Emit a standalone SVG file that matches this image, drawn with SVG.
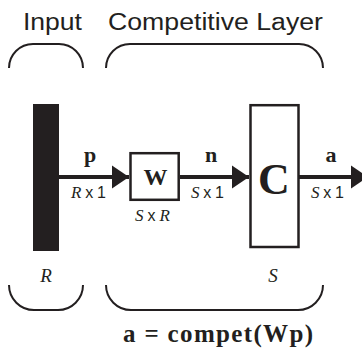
<svg xmlns="http://www.w3.org/2000/svg" width="362" height="354" viewBox="0 0 362 354">
<style>
.bg{fill:#ffffff}
.hdr{font-family:"Liberation Sans",Arial,sans-serif;font-size:23.5px;fill:#231f20}
.brk{fill:none;stroke:#231f20;stroke-width:2}
.box{fill:#ffffff;stroke:#231f20;stroke-width:2.5}
.bar{fill:#231f20}
.wire{fill:none;stroke:#231f20;stroke-width:4}
.sym{font-family:"Liberation Serif","Times New Roman",serif;font-weight:bold;fill:#231f20;text-anchor:middle}
.dim{font-family:"Liberation Sans",Arial,sans-serif;font-size:16px;fill:#231f20}
.it{font-family:"Liberation Serif","Times New Roman",serif;font-style:italic;font-size:17px}
.ital{font-family:"Liberation Serif","Times New Roman",serif;font-style:italic;font-size:19px;fill:#231f20;text-anchor:middle}
</style>
<defs>
<marker id="ah" markerUnits="userSpaceOnUse" markerWidth="17" markerHeight="23" refX="17" refY="11.5" orient="auto" overflow="visible">
<path d="M0,0 L17,11.5 L0,23 Z" fill="#231f20"/>
</marker>
</defs>
<rect class="bg" x="0" y="0" width="362" height="354"/>
<g id="headers">
<text class="hdr" x="23" y="30" textLength="59" lengthAdjust="spacingAndGlyphs">Input</text>
<text class="hdr" x="108" y="30" textLength="215" lengthAdjust="spacingAndGlyphs">Competitive Layer</text>
</g>
<g id="brackets">
<path class="brk" d="M9,68 A24,24 0 0 1 33,44 L59,44 A24,24 0 0 1 83,68"/>
<path class="brk" d="M106,68 A24,24 0 0 1 130,44 L299,44 A24,24 0 0 1 323,68"/>
<path class="brk" d="M9,285 A25,25 0 0 0 34,310 L58,310 A25,25 0 0 0 83,285"/>
<path class="brk" d="M106,285 A25,25 0 0 0 131,310 L298,310 A25,25 0 0 0 323,285"/>
</g>
<g id="connectors">
<line class="wire" x1="59" y1="177" x2="129" y2="177" marker-end="url(#ah)"/>
<line class="wire" x1="180" y1="177" x2="249" y2="177" marker-end="url(#ah)"/>
<line class="wire" x1="299" y1="177" x2="368" y2="177" marker-end="url(#ah)"/>
</g>
<g id="input">
<rect class="bar" x="33" y="104" width="26" height="147"/>
<text class="ital" x="46" y="282">R</text>
</g>
<g id="weight">
<rect class="box" x="130.5" y="153.2" width="48.2" height="46.6"/>
<text class="sym" x="155.5" y="185" font-size="24">W</text>
<text class="dim" x="135" y="220.5" textLength="35" lengthAdjust="spacing"><tspan class="it">S</tspan>x<tspan class="it">R</tspan></text>
</g>
<g id="compet">
<rect class="box" x="250.5" y="105.2" width="48" height="141.8"/>
<text class="sym" x="274" y="194" font-size="44">C</text>
<text class="ital" x="273" y="282">S</text>
</g>
<g id="labels">
<text class="sym" x="90" y="162" font-size="22">p</text>
<text class="dim" x="71" y="198" textLength="35" lengthAdjust="spacing"><tspan class="it">R</tspan>x1</text>
<text class="sym" x="211" y="162" font-size="22">n</text>
<text class="dim" x="191" y="198" textLength="33" lengthAdjust="spacing"><tspan class="it">S</tspan>x1</text>
<text class="sym" x="331" y="162" font-size="22">a</text>
<text class="dim" x="311" y="198" textLength="33" lengthAdjust="spacing"><tspan class="it">S</tspan>x1</text>
</g>
<g id="formula">
<text class="sym" x="218" y="342" font-size="25" textLength="190" lengthAdjust="spacing">a = compet(Wp)</text>
</g>
</svg>
